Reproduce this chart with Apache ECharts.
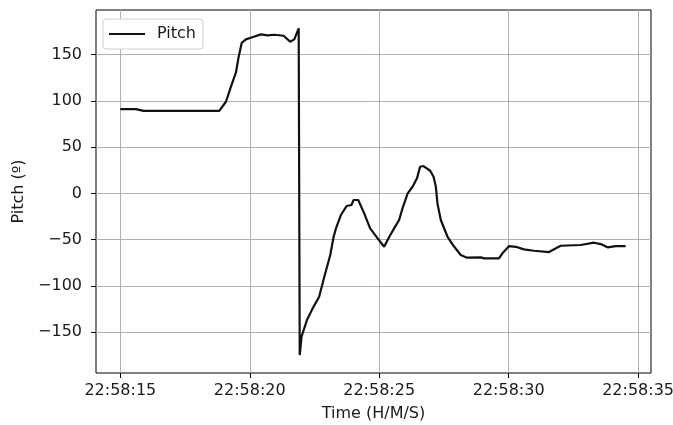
<!DOCTYPE html>
<html>
<head>
<meta charset="utf-8">
<script src="https://cdn.jsdelivr.net/npm/echarts@6/dist/echarts.min.js"></script>
<style>html,body{margin:0;padding:0;background:#fff}#c{width:673px;height:425px}</style>
</head>
<body>
<div id="c"></div>
<script>
// seconds after 22:58:00
var times = [15.0, 15.6, 15.9, 18.82, 18.89, 19.08, 19.27, 19.47, 19.56, 19.63, 19.69, 19.85, 20.04, 20.43, 20.69, 20.95, 21.31, 21.56, 21.72, 21.89,
  21.93, 22.00, 22.21, 22.43, 22.68, 22.88, 23.11, 23.24, 23.33, 23.52, 23.74, 23.93, 24.01, 24.19, 24.42, 24.65, 24.94, 25.19, 25.39, 25.65, 25.77,
  25.90, 26.10, 26.29, 26.46, 26.58, 26.71, 26.97, 27.10, 27.19, 27.25, 27.38, 27.64, 27.90, 28.15, 28.39, 28.93, 29.05, 29.63, 29.76,
  30.02, 30.28, 30.59, 30.98, 31.56, 32.01, 32.78, 33.30, 33.56, 33.82, 34.14, 34.52];
var pitch = [91, 91, 89, 89, 90.7, 98.9, 115, 131, 145.8, 154.8, 162.6, 166.3, 168, 171.7, 170.6, 171.3, 170.2, 163.7, 166.3, 178.2,
  -174.6, -154.8, -136.8, -124.2, -111.7, -90, -66.6, -46.9, -37.8, -23.4, -13.7, -12.6, -7.2, -7.2, -21.6, -37.8, -48.6, -57.7, -46.9, -34.3, -28.8,
  -16.2, 0, 7.1, 16.2, 28.7, 29.5, 24.4, 17.9, 7.1, -10.8, -28.8, -46.9, -57.7, -66.6, -69.5, -69.1, -70.2, -70.2, -64.8,
  -56.9, -57.7, -60.5, -62, -63.4, -56.6, -55.8, -53.3, -54.8, -58.3, -56.9, -56.9];
var xTicks = [15, 20, 25, 30, 35];
var yTicks = [-150, -100, -50, 0, 50, 100, 150];
var seriesName = 'Pitch';

function fmtTime(v) {
  var s = Math.round(v);
  return '22:58:' + (s < 10 ? '0' + s : s);
}
var data = times.map(function (t, i) { return [t, pitch[i]]; });
var font = 'DejaVu Sans';
var fs = 16;
var chart = echarts.init(document.getElementById('c'));
chart.setOption({
  animation: false,
  grid: { left: 96, right: 22, top: 10, bottom: 52, show: true, borderColor: '#000', borderWidth: 1, backgroundColor: 'transparent', containLabel: false, outerBoundsMode: 'none' },
  legend: {
    left: 103, top: 19, orient: 'vertical',
    padding: [7, 7, 7, 6],
    itemWidth: 36, itemHeight: 16,
    borderColor: '#d0d0d0', borderWidth: 1, borderRadius: 3,
    backgroundColor: '#fff',
    textStyle: { fontFamily: font, fontSize: fs, color: '#1a1a1a', padding: [0, 0, 0, 7] },
    data: [{ name: seriesName, icon: 'path://M0,0 L36,0 L36,2 L0,2 Z' }]
  },
  xAxis: {
    type: 'value', min: 14.06, max: 35.5,
    name: 'Time (H/M/S)', nameLocation: 'middle', nameGap: 33,
    nameTextStyle: { fontFamily: font, fontSize: fs, color: '#1a1a1a' },
    axisLine: { show: false, onZero: false },
    axisTick: { show: true, length: 5, lineStyle: { color: '#000', width: 1 }, customValues: xTicks },
    axisLabel: { customValues: xTicks, formatter: fmtTime, fontFamily: font, fontSize: fs, color: '#1a1a1a', margin: 10, hideOverlap: false },
    splitLine: { show: true, lineStyle: { color: '#b0b0b0', width: 1 } }
  },
  yAxis: {
    type: 'value', min: -194, max: 198,
    name: 'Pitch (º)', nameLocation: 'middle', nameGap: 68,
    nameTextStyle: { fontFamily: font, fontSize: fs, color: '#1a1a1a' },
    axisLine: { show: false, onZero: false },
    axisTick: { show: true, length: 5, lineStyle: { color: '#000', width: 1 }, customValues: yTicks },
    axisLabel: { customValues: yTicks, formatter: function (v) { return v < 0 ? '\u2212' + (-v) : String(v); }, fontFamily: font, fontSize: fs, color: '#1a1a1a', margin: 14 },
    splitLine: { show: true, lineStyle: { color: '#b0b0b0', width: 1 } }
  },
  series: [{
    name: seriesName, type: 'line', data: data, symbol: 'none', showSymbol: false,
    lineStyle: { color: '#111', width: 2.2 }, itemStyle: { color: '#111' }
  }]
});
</script>
</body>
</html>
